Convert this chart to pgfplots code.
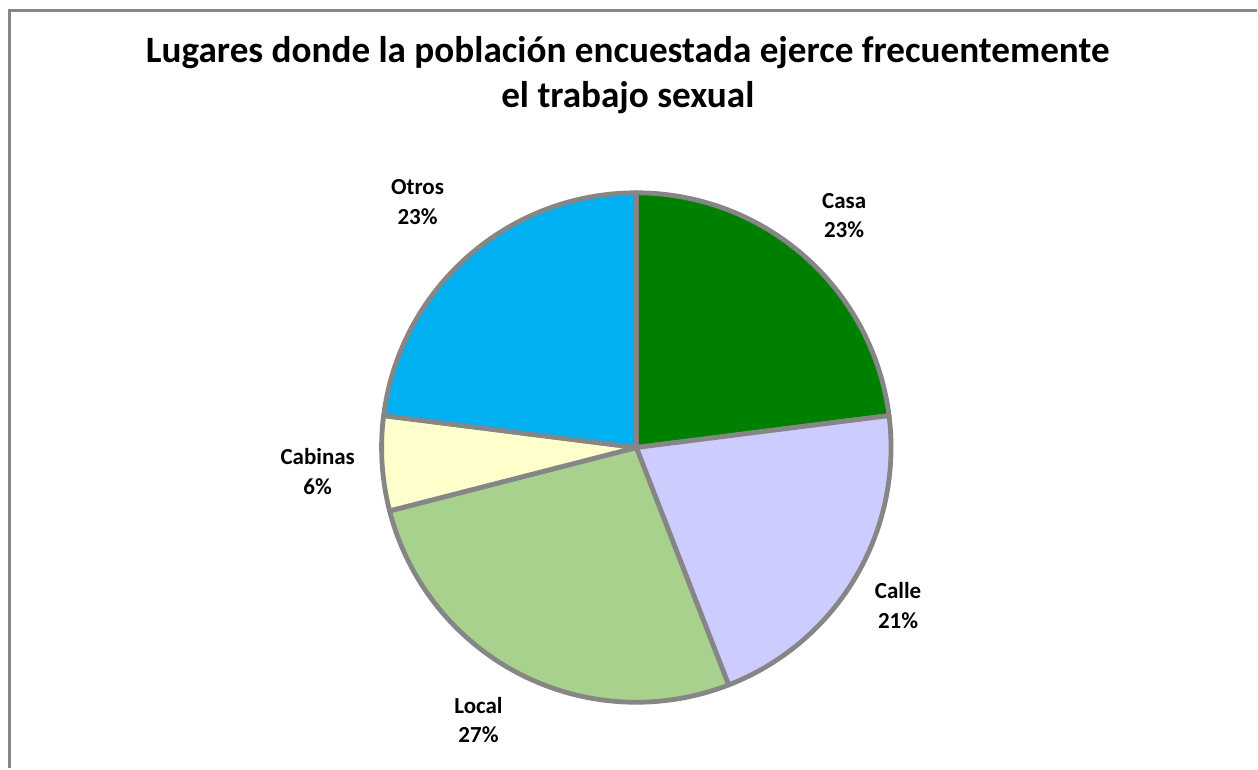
\documentclass[border=0pt]{standalone}
\usepackage{pgfplots}
\pgfplotsset{compat=1.18}
\usepackage{fontspec}
\setmainfont{Carlito}
\definecolor{casa}{RGB}{0,128,0}
\definecolor{calle}{RGB}{204,204,255}
\definecolor{local}{RGB}{169,209,142}
\definecolor{cabinas}{RGB}{255,255,204}
\definecolor{otros}{RGB}{0,176,240}
\definecolor{edge}{RGB}{134,134,134}
% #1 cumulative percent before the slice, #2 percent of the slice, #3 colour
\newcommand{\slice}[3]{%
  \addplot[fill=#3, draw=edge, line width=2.4pt, line join=round, domain={90-3.6*(#1+#2)}:{90-3.6*(#1)}, samples=80]
    ({637+255*cos(x)},{321+255*sin(x)}) -- (axis cs:637,321) -- cycle;
}
\begin{document}
\begin{tikzpicture}
\begin{axis}[hide axis, scale only axis, width=629pt, height=384.5pt,
  xmin=0, xmax=1258, ymin=0, ymax=769, clip=false]
\path (axis cs:0,0) rectangle (axis cs:1258,769);
\draw[edge, line width=1.35pt] (axis cs:9.5,0) -- (axis cs:9.5,758.5) -- (axis cs:1258,758.5);
% Casa 23.0, Calle 21.1, Local 26.9, Cabinas 6.0, Otros 23.0
\slice{0}{23.0}{casa}
\slice{23.0}{21.1}{calle}
\slice{44.1}{26.9}{local}
\slice{71.0}{6.0}{cabinas}
\slice{77.0}{23.0}{otros}
\node[align=center, font=\fontsize{18.6}{22.5}\selectfont\bfseries] at (axis cs:628.5,693.5)
  {Lugares donde la población encuestada ejerce frecuentemente\\el trabajo sexual};
\tikzset{lab/.style={align=center, font=\fontsize{11.5}{14.8}\selectfont\bfseries}}
\node[lab] at (axis cs:845,553) {Casa\\23\%};
\node[lab] at (axis cs:899,163) {Calle\\21\%};
\node[lab] at (axis cs:479,48) {Local\\27\%};
\node[lab] at (axis cs:318,297) {Cabinas\\6\%};
\node[lab] at (axis cs:418,567) {Otros\\23\%};
\end{axis}
\end{tikzpicture}
\end{document}
